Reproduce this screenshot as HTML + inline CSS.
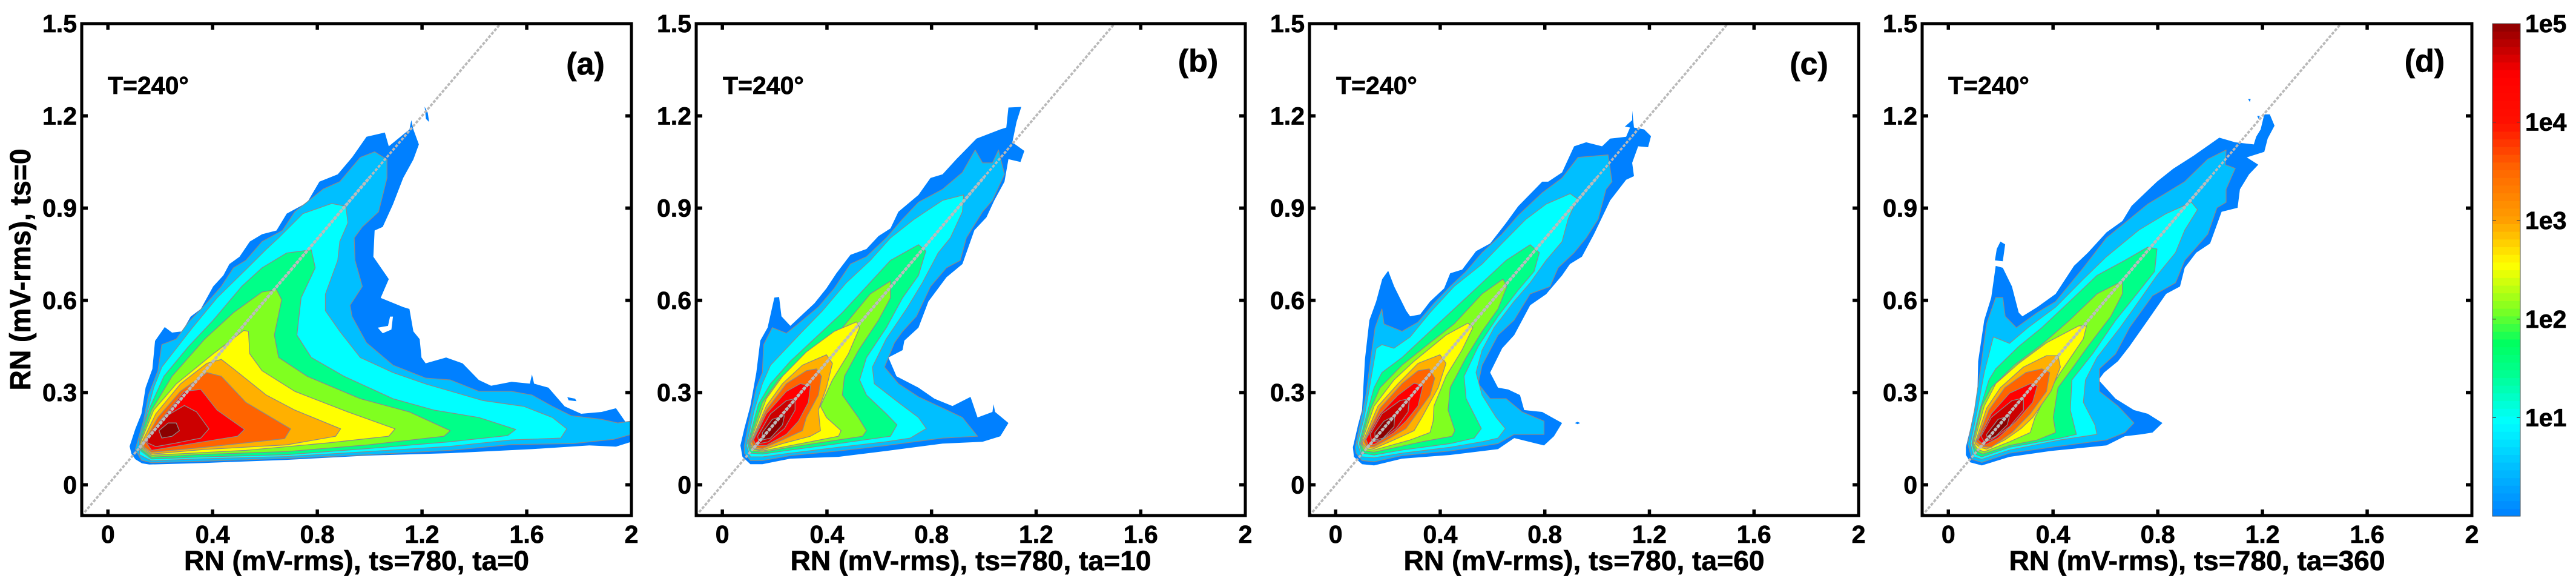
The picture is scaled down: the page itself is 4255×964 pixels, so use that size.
<!DOCTYPE html>
<html lang="en">
<head>
<meta charset="utf-8">
<title>RN contour comparison</title>
<style>
html,body{margin:0;padding:0;background:#fff;width:4255px;height:964px;overflow:hidden}
svg{display:block;font-family:"Liberation Sans",sans-serif;font-weight:bold}
svg text{stroke:#000;stroke-width:0.7px}
</style>
</head>
<body>
<svg id="figure" width="4255" height="964" viewBox="0 0 4255 964" xmlns="http://www.w3.org/2000/svg">
<rect width="4255" height="964" fill="#fff"/>
</svg>
<script>
// ---- chart data (flat x,y pairs in mV-rms; array index = contour level) ----
const xTicks = [0, 0.4, 0.8, 1.2, 1.6, 2];
const xTickLabels = ['0', '0.4', '0.8', '1.2', '1.6', '2'];
const yTicks = [0, 0.3, 0.6, 0.9, 1.2, 1.5];
const yTickLabels = ['0', '0.3', '0.6', '0.9', '1.2', '1.5'];
const panelLetters = ['(a)', '(b)', '(c)', '(d)'];
const xAxisTitles = ['RN (mV-rms), ts=780, ta=0', 'RN (mV-rms), ts=780, ta=10', 'RN (mV-rms), ts=780, ta=60', 'RN (mV-rms), ts=780, ta=360'];
const yAxisTitle = 'RN (mV-rms), ts=0';
const temperatureLabel = 'T=240\u00B0';
const levelColors = ['#0080ff', '#00bfff', '#00ffff', '#00ff88', '#80ff20', '#ffff00', '#ffb000', '#ff6400', '#ff0000', '#cc0000', '#8b0000'];
const colorbarExponents = [0, 0.5, 0.96, 1.45, 1.76, 2.1, 2.55, 3, 3.54, 3.99, 4.48, 5];
const colorbarColors = ['#0080ff', '#00bfff', '#00ffff', '#00ff90', '#00ff60', '#80ff20', '#ffff00', '#ffa000', '#ff6400', '#ff1000', '#ff0000', '#8b0000'];
const colorbarTicks = [1, 2, 3, 4, 5];
const colorbarTickLabels = ['1e1', '1e2', '1e3', '1e4', '1e5'];

const contoursA = [
[.083,.125,.105,.182,.128,.231,.144,.316,.170,.377,.180,.468,.217,.513,.245,.495,.284,.499,.316,.547,.355,.572,.402,.645,.441,.681,.464,.718,.503,.742,.542,.791,.589,.815,.644,.827,.683,.882,.761,.918,.808,.986,.878,1.010,.933,1.065,.988,1.132,1.058,1.146,1.073,1.101,1.152,1.156,1.159,1.186,1.167,1.156,1.188,1.107,1.167,1.058,1.128,.998,1.089,.912,1.050,.839,1.019,.827,1.014,.742,1.073,.669,1.042,.608,1.128,.578,1.152,.572,1.167,.499,1.191,.474,1.198,.414,1.214,.395,1.292,.414,1.355,.395,1.417,.341,1.464,.322,1.542,.335,1.612,.329,1.620,.359,1.628,.329,1.683,.316,1.745,.255,1.808,.231,1.886,.237,1.941,.249,1.980,.201,2.0,.207,2.0,.14,1.941,.124,1.839,.128,1.620,.116,1.308,.103,.995,.095,.683,.081,.370,.071,.158,.066,.130,.070,.105,.083,.090,.100],
[.117,.152,.136,.207,.155,.292,.191,.371,.206,.456,.261,.474,.308,.529,.370,.584,.433,.645,.480,.706,.527,.730,.589,.791,.667,.827,.714,.888,.823,.962,.886,.986,.964,1.065,1.019,1.083,1.066,1.058,1.066,.998,1.034,.888,.972,.839,.941,.803,.944,.730,.972,.645,.925,.584,.933,.547,.988,.462,1.089,.389,1.214,.347,1.308,.341,1.417,.304,1.542,.304,1.620,.292,1.698,.255,1.769,.225,1.886,.213,1.948,.201,2.0,.207,2.0,.164,1.933,.148,1.777,.134,1.542,.131,1.308,.112,.995,.098,.683,.086,.370,.077,.167,.072,.128,.080,.105,.115],
[.125,.152,.152,.243,.175,.316,.206,.383,.323,.511,.417,.608,.527,.700,.605,.766,.652,.803,.745,.882,.855,.915,.909,.906,.917,.852,.886,.791,.878,.730,.831,.620,.831,.566,.886,.499,.964,.414,1.089,.365,1.214,.328,1.433,.274,1.589,.255,1.698,.219,1.753,.182,1.730,.152,1.542,.146,1.308,.125,.995,.108,.683,.092,.370,.085,.167,.078,.120,.098],
[.120,.146,.159,.249,.214,.353,.308,.450,.402,.535,.511,.645,.589,.706,.683,.754,.777,.764,.792,.706,.738,.608,.722,.487,.777,.414,.902,.353,1.089,.280,1.245,.243,1.417,.219,1.558,.180,1.527,.160,1.308,.140,.995,.118,.683,.098,.370,.091,.167,.084,.126,.110],
[.120,.134,.167,.243,.245,.353,.370,.474,.480,.560,.589,.627,.644,.635,.664,.602,.636,.487,.652,.414,.761,.353,.964,.280,1.152,.237,1.308,.176,1.284,.158,.995,.130,.683,.108,.370,.099,.167,.090,.128,.116],
[.123,.134,.175,.243,.261,.328,.402,.426,.519,.502,.537,.499,.542,.426,.589,.371,.714,.304,.917,.237,1.097,.182,1.073,.158,.839,.136,.527,.112,.167,.096,.133,.118],
[.128,.134,.183,.231,.277,.328,.378,.395,.433,.408,.480,.377,.605,.292,.714,.243,.889,.182,.870,.158,.683,.130,.370,.115,.167,.100,.136,.120],
[.136,.134,.191,.219,.277,.304,.378,.365,.433,.353,.527,.268,.698,.182,.675,.150,.370,.122,.167,.106,.139,.122],
[.144,.140,.198,.207,.292,.304,.355,.310,.417,.243,.522,.180,.495,.158,.323,.134,.167,.112],
[.152,.158,.214,.219,.292,.258,.339,.237,.386,.182,.355,.152,.261,.136,.183,.124,.152,.136],
[.195,.176,.230,.201,.261,.201,.273,.176,.245,.158,.206,.152]
];
const contoursB = [
[.069,.128,.084,.183,.107,.256,.130,.365,.145,.469,.173,.511,.199,.609,.217,.611,.226,.548,.260,.517,.291,.542,.352,.590,.398,.639,.436,.688,.490,.748,.551,.767,.597,.809,.643,.834,.673,.888,.750,.943,.796,.998,.842,1.010,.895,1.059,.972,1.126,1.063,1.156,1.086,1.162,1.094,1.227,1.143,1.229,1.125,1.180,1.109,1.114,1.155,1.086,1.140,1.050,1.094,1.059,1.079,.986,1.040,.925,1.010,.870,.964,.828,.918,.718,.857,.675,.788,.596,.750,.511,.696,.469,.689,.438,.635,.414,.666,.353,.750,.316,.811,.280,.880,.256,.949,.286,.976,.219,1.033,.237,1.037,.262,1.043,.237,1.094,.201,1.063,.158,.995,.140,.842,.134,.627,.110,.444,.091,.260,.085,.153,.067,.107,.067,.077,.091],
[.084,.128,.099,.195,.130,.316,.153,.365,.158,.456,.191,.511,.245,.493,.298,.529,.367,.578,.428,.639,.490,.718,.551,.742,.627,.803,.689,.864,.750,.919,.842,.961,.918,1.016,.967,1.089,.995,1.047,1.033,1.047,1.056,1.089,1.079,1.010,1.033,.925,.995,.888,.933,.803,.910,.730,.857,.706,.796,.645,.742,.548,.689,.499,.658,.462,.620,.383,.673,.329,.750,.286,.826,.256,.918,.219,.976,.158,.842,.152,.627,.128,.444,.110,.260,.095,.153,.079,.107,.079,.084,.103],
[.092,.128,.122,.243,.153,.329,.184,.389,.306,.499,.383,.566,.474,.657,.566,.730,.643,.803,.734,.864,.842,.925,.923,.943,.918,.888,.872,.803,.826,.755,.765,.657,.704,.572,.627,.475,.574,.383,.581,.329,.673,.268,.750,.219,.780,.183,.719,.152,.627,.140,.444,.122,.260,.103,.153,.091,.107,.091],
[.097,.134,.138,.262,.184,.329,.260,.402,.367,.487,.459,.560,.551,.645,.643,.730,.750,.781,.778,.760,.750,.681,.689,.608,.627,.511,.551,.414,.525,.341,.551,.292,.627,.231,.668,.195,.643,.158,.444,.134,.260,.113,.153,.100,.107,.103],
[.101,.134,.153,.268,.214,.341,.291,.402,.383,.462,.459,.511,.566,.621,.643,.663,.643,.608,.597,.535,.521,.438,.467,.353,.459,.292,.520,.219,.551,.176,.536,.158,.444,.146,.260,.122,.153,.106,.112,.110],
[.104,.134,.168,.280,.230,.353,.321,.432,.428,.499,.513,.530,.525,.511,.482,.426,.421,.341,.375,.256,.398,.219,.454,.176,.444,.158,.337,.140,.153,.110,.115,.116],
[.107,.134,.168,.256,.230,.329,.306,.389,.398,.423,.421,.395,.398,.316,.367,.243,.375,.176,.337,.158,.230,.134,.153,.113,.119,.118],
[.112,.140,.168,.243,.245,.329,.321,.371,.360,.377,.379,.353,.367,.292,.321,.219,.306,.176,.230,.146,.153,.118,.122,.122],
[.119,.146,.168,.231,.245,.304,.298,.329,.337,.322,.329,.268,.291,.207,.245,.164,.168,.128,.130,.128],
[.135,.158,.184,.231,.245,.274,.278,.280,.278,.243,.237,.183,.176,.140,.141,.134],
[.153,.170,.191,.213,.237,.225,.230,.195,.184,.152,.153,.146]
];
const contoursC = [
[.066,.122,.086,.195,.101,.243,.112,.408,.129,.535,.155,.596,.178,.669,.201,.696,.224,.645,.270,.566,.285,.548,.323,.554,.361,.596,.415,.639,.438,.688,.484,.700,.537,.760,.591,.785,.652,.852,.698,.906,.790,.986,.813,.986,.866,1.016,.912,1.101,.958,1.114,1.019,1.101,1.050,1.126,1.111,1.132,1.126,1.162,1.106,1.165,1.134,1.186,1.134,1.217,1.141,1.162,1.180,1.156,1.206,1.134,1.195,1.098,1.157,1.101,1.134,1.047,1.141,1.004,1.111,.992,1.050,.925,.988,.815,.942,.742,.896,.718,.866,.681,.805,.620,.744,.584,.683,.487,.637,.444,.591,.365,.621,.316,.660,.310,.705,.292,.721,.243,.790,.237,.866,.201,.835,.158,.797,.128,.683,.152,.621,.116,.438,.097,.254,.085,.147,.063,.101,.067,.070,.091],
[.075,.122,.093,.195,.116,.292,.135,.414,.151,.511,.177,.572,.185,.523,.254,.499,.315,.529,.376,.590,.438,.645,.499,.694,.560,.755,.636,.815,.698,.876,.789,.949,.866,.998,.927,1.065,1.042,1.073,1.057,.986,1.034,.961,1.004,.864,.958,.803,.912,.755,.851,.706,.820,.645,.744,.621,.682,.535,.621,.487,.560,.389,.545,.329,.591,.280,.652,.280,.713,.237,.797,.207,.797,.164,.682,.164,.621,.134,.438,.110,.254,.095,.147,.075,.101,.079,.078,.103],
[.083,.134,.109,.219,.132,.329,.155,.444,.177,.456,.223,.444,.285,.481,.361,.560,.453,.645,.560,.718,.636,.785,.728,.864,.805,.913,.897,.947,.924,.931,.889,.864,.866,.791,.805,.730,.744,.657,.682,.596,.606,.511,.560,.438,.537,.365,.560,.292,.614,.219,.649,.183,.621,.152,.560,.140,.438,.122,.254,.103,.147,.088,.101,.091],
[.090,.134,.124,.243,.147,.316,.177,.365,.254,.414,.361,.499,.453,.572,.560,.657,.652,.730,.744,.781,.779,.755,.759,.694,.698,.633,.621,.548,.545,.450,.491,.353,.499,.280,.557,.183,.530,.152,.438,.134,.254,.113,.147,.097,.101,.103],
[.095,.134,.132,.243,.170,.316,.254,.389,.361,.462,.453,.523,.560,.621,.640,.669,.655,.645,.621,.572,.560,.499,.499,.414,.438,.316,.430,.243,.456,.176,.445,.158,.330,.140,.147,.106,.109,.110],
[.098,.134,.147,.256,.223,.341,.300,.402,.422,.487,.506,.526,.525,.511,.483,.438,.422,.353,.376,.256,.373,.207,.361,.170,.285,.146,.147,.113,.113,.118],
[.101,.134,.162,.256,.239,.329,.315,.395,.399,.423,.422,.395,.392,.316,.330,.219,.300,.176,.223,.146,.147,.118,.116,.122],
[.109,.140,.170,.249,.254,.329,.315,.371,.358,.377,.379,.347,.361,.292,.300,.219,.269,.183,.208,.152,.147,.124,.119,.125],
[.116,.148,.170,.231,.239,.292,.300,.331,.334,.322,.315,.256,.269,.207,.223,.170,.147,.131,.124,.131],
[.132,.164,.177,.231,.246,.274,.282,.280,.277,.237,.231,.183,.170,.144,.139,.140],
[.150,.170,.185,.207,.226,.225,.223,.189,.181,.152,.151,.146]
];
const contoursD = [
[.067,.122,.084,.183,.111,.292,.114,.402,.137,.535,.164,.609,.181,.712,.208,.706,.243,.645,.269,.560,.283,.548,.340,.578,.410,.621,.480,.712,.533,.755,.604,.821,.665,.858,.700,.907,.797,.986,.859,1.028,.938,1.071,1.035,1.129,1.096,1.114,1.167,1.107,1.176,1.132,1.193,1.156,1.207,1.205,1.228,1.205,1.246,1.168,1.220,1.126,1.207,1.083,1.140,1.065,1.184,1.041,1.149,1.010,1.114,.961,1.105,.901,1.044,.888,1.000,.785,.947,.755,.903,.706,.885,.645,.832,.621,.762,.535,.692,.450,.648,.402,.595,.365,.574,.341,.639,.280,.709,.243,.762,.231,.818,.201,.780,.170,.736,.164,.674,.158,.604,.128,.392,.110,.234,.091,.128,.063,.084,.073,.067,.097],
[.074,.134,.100,.243,.127,.402,.146,.523,.181,.609,.208,.609,.217,.548,.260,.511,.340,.560,.410,.596,.516,.706,.604,.803,.692,.864,.762,.913,.832,.949,.903,.986,.991,1.059,1.061,1.089,1.058,1.041,1.096,1.029,1.061,.961,1.061,.919,1.026,.901,.991,.815,.903,.730,.868,.657,.780,.615,.692,.511,.639,.426,.577,.377,.577,.304,.648,.256,.709,.201,.674,.170,.604,.146,.392,.122,.234,.103,.128,.073,.090,.083],
[.084,.134,.111,.243,.137,.365,.172,.481,.234,.460,.304,.511,.410,.578,.516,.669,.604,.742,.727,.828,.832,.882,.929,.919,.952,.895,.903,.828,.868,.755,.797,.681,.727,.596,.656,.511,.568,.414,.524,.341,.516,.268,.560,.195,.568,.164,.428,.146,.234,.113,.128,.083,.097,.091],
[.090,.134,.120,.243,.155,.341,.181,.377,.269,.450,.357,.511,.463,.596,.568,.681,.674,.730,.762,.773,.797,.767,.788,.694,.709,.609,.639,.535,.551,.426,.472,.341,.466,.243,.489,.164,.428,.152,.234,.122,.128,.091,.102,.100],
[.093,.134,.128,.256,.164,.316,.252,.389,.357,.456,.463,.535,.568,.621,.665,.663,.665,.621,.621,.548,.533,.450,.472,.377,.419,.316,.401,.219,.410,.170,.340,.146,.234,.128,.132,.100,.107,.110],
[.097,.134,.137,.256,.181,.329,.269,.395,.375,.462,.498,.517,.528,.517,.516,.475,.428,.365,.375,.292,.331,.219,.313,.170,.234,.140,.137,.107,.111,.116],
[.102,.134,.146,.249,.199,.316,.287,.383,.375,.420,.419,.420,.428,.383,.392,.304,.322,.219,.278,.183,.216,.146,.146,.116,.120,.122],
[.107,.140,.155,.243,.216,.316,.296,.365,.357,.377,.387,.365,.375,.304,.313,.231,.243,.170,.164,.122,.128,.125],
[.114,.146,.164,.231,.234,.298,.313,.329,.340,.322,.322,.268,.260,.207,.190,.152,.137,.128],
[.125,.158,.164,.219,.243,.274,.287,.282,.287,.243,.234,.189,.164,.146,.137,.140],
[.146,.164,.190,.213,.234,.225,.225,.195,.181,.158,.150,.146]
];
// isolated lowest-level blobs outside the main contour
const islandsA = [[1.210,1.23,1.222,1.21,1.227,1.18,1.215,1.19],[1.755,.285,1.785,.280,1.79,.272,1.76,.275]];
const islandsB = [];
const islandsC = [[.915,.201,.925,.205,.935,.201,.925,.197]];
const islandsD = [[.178,.730,.185,.767,.199,.791,.217,.782,.208,.727],[1.145,1.255,1.155,1.255,1.152,1.245],[1.18,1.2,1.19,1.2,1.185,1.19]];
const holesA = [[1.031,.511,1.070,.517,1.078,.547,1.089,.547,1.083,.505,1.050,.493]];
const diagonalStart = -0.1, diagonalInnerStart = 0.12, diagonalInnerEnd = 1.0, diagonalEnd = 1.5;

// ---- layout ----
const panelLeft = [135, 1150, 2163, 3175];
const panelRight = [1043, 2057, 3070, 4083];
const plotTop = 39, plotBottom = 851;
const xMin = -0.1, xMax = 2, yMin = -0.1, yMax = 1.5;
const letterX = [967, 1979, 2988, 4005];
const letterY = [123, 118, 123, 118];
const tempX = [178, 1194, 2207, 3218];
const titleEm = [12.393, 12.949, 12.949, 13.505];
const NS = 'http://www.w3.org/2000/svg';
const fig = document.getElementById('figure');

function mk(tag, attrs, parent) {
  const el = document.createElementNS(NS, tag);
  for (const k in attrs) el.setAttribute(k, attrs[k]);
  (parent || fig).appendChild(el);
  return el;
}
function xScale(p, v) { return panelLeft[p] + (v - xMin) / (xMax - xMin) * (panelRight[p] - panelLeft[p]); }
function yScale(v) { return plotBottom - (v - yMin) / (yMax - yMin) * (plotBottom - plotTop); }
function toPoints(p, flat) {
  const out = [];
  for (let i = 0; i + 1 < flat.length; i += 2) out.push(xScale(p, flat[i]).toFixed(1) + ',' + yScale(flat[i + 1]).toFixed(1));
  return out.join(' ');
}
function label(txt, x, y, size, anchor, parent) {
  const t = mk('text', {x: x, y: y, 'font-size': size, 'text-anchor': anchor, fill: '#000'}, parent);
  t.textContent = txt;
  return t;
}

const allContours = [contoursA, contoursB, contoursC, contoursD];
const allIslands = [islandsA, islandsB, islandsC, islandsD];
const allHoles = [holesA, [], [], []];
const defs = mk('defs', {});

allContours.forEach(function (contours, p) {
  const L = panelLeft[p], R = panelRight[p];
  const g = mk('g', {});
  
  
  const clip = mk('clipPath', {id: 'clip' + p}, defs);
  mk('rect', {x: L, y: plotTop, width: R - L, height: plotBottom - plotTop}, clip);
  const marks = mk('g', {'clip-path': 'url(#clip' + p + ')'}, g);

  contours.forEach(function (flat, lvl) {
    const poly = mk('polygon', {
      points: toPoints(p, flat),
      fill: levelColors[lvl],
      stroke: lvl === 0 ? 'none' : '#8a8a8a',
      'stroke-width': lvl === 0 ? 0 : 1.3,
      'stroke-linejoin': 'round'
    }, marks);
    
    
  });
  allIslands[p].forEach(function (flat) {
    const poly = mk('polygon', {points: toPoints(p, flat), fill: levelColors[0]}, marks);
    
    
  });
  allHoles[p].forEach(function (flat) {
    const poly = mk('polygon', {points: toPoints(p, flat), fill: '#fff'}, marks);
    
    
  });

  const diag = mk('line', {
    x1: xScale(p, diagonalStart), y1: yScale(diagonalStart), x2: xScale(p, diagonalEnd), y2: yScale(diagonalEnd),
    stroke: '#b9b9b9', 'stroke-width': 3.8, 'stroke-dasharray': '5 2.4'
  }, marks);
  
  
  const diagInner = mk('line', {
    x1: xScale(p, diagonalInnerStart), y1: yScale(diagonalInnerStart), x2: xScale(p, diagonalInnerEnd), y2: yScale(diagonalInnerEnd),
    stroke: '#bcbcbc', 'stroke-width': 5, 'stroke-dasharray': '4.6 2.8'
  }, marks);
  
  

  const frame = mk('rect', {x: L, y: plotTop, width: R - L, height: plotBottom - plotTop, fill: 'none', stroke: '#000', 'stroke-width': 5}, g);
  
  

  xTicks.forEach(function (v, i) {
    const x = xScale(p, v);
    if (v < xMax) {
      const t1 = mk('line', {x1: x, x2: x, y1: plotBottom, y2: plotBottom - 10, stroke: '#000', 'stroke-width': 5.5}, g);
      
      
      const t2 = mk('line', {x1: x, x2: x, y1: plotTop, y2: plotTop + 10, stroke: '#000', 'stroke-width': 5.5}, g);
      
      
    }
    const lab = label(xTickLabels[i], x, 896, 41, 'middle', g);
    
    
  });
  yTicks.forEach(function (v, i) {
    const y = yScale(v);
    if (v < yMax) {
      const t1 = mk('line', {x1: L, x2: L + 10, y1: y, y2: y, stroke: '#000', 'stroke-width': 5.5}, g);
      
      
      const t2 = mk('line', {x1: R, x2: R - 10, y1: y, y2: y, stroke: '#000', 'stroke-width': 5.5}, g);
      
      
    }
    const lab = label(yTickLabels[i], L - 8, y + 14, 41, 'end', g);
    
    
  });

  const xt = label(xAxisTitles[p], (L + R) / 2, 941, 45, 'middle', g);
  xt.setAttribute('textLength', (titleEm[p] * 46).toFixed(0));
  xt.setAttribute('lengthAdjust', 'spacingAndGlyphs');
  
  

  const letter = label(panelLetters[p], letterX[p], letterY[p], 52, 'middle', g);
  
  

  const temp = label(temperatureLabel, tempX[p], 155, 41, 'start', g);
  
  
});

// y-axis title on first panel only
const yt = label(yAxisTitle, 0, 0, 48, 'middle');
yt.setAttribute('transform', 'translate(50,445) rotate(-90)');
yt.setAttribute('textLength', '399');
yt.setAttribute('lengthAdjust', 'spacingAndGlyphs');



// colorbar
const cbLeft = 4117, cbRight = 4163, cbTop = 39, cbBottom = 852;
const cbBands = 64;
function hexToRgb(h) { return [parseInt(h.substr(1, 2), 16), parseInt(h.substr(3, 2), 16), parseInt(h.substr(5, 2), 16)]; }
function colorAt(e) {
  for (let i = 0; i < colorbarExponents.length - 1; i++) {
    if (e <= colorbarExponents[i + 1]) {
      const t = (e - colorbarExponents[i]) / (colorbarExponents[i + 1] - colorbarExponents[i]);
      const a = hexToRgb(colorbarColors[i]), b = hexToRgb(colorbarColors[i + 1]);
      return 'rgb(' + a.map(function (c, k) { return Math.round(c + (b[k] - c) * t); }).join(',') + ')';
    }
  }
  return colorbarColors[colorbarColors.length - 1];
}
function cbY(e) { return cbBottom - e / 5 * (cbBottom - cbTop); }
const cb = mk('g', {});


for (let i = 0; i < cbBands; i++) {
  const e0 = i / cbBands * 5, e1 = (i + 1) / cbBands * 5;
  const band = mk('rect', {x: cbLeft, y: cbY(e1), width: cbRight - cbLeft, height: cbY(e0) - cbY(e1) + 0.6, fill: colorAt((e0 + e1) / 2)}, cb);
  
  
}
const cbFrame = mk('rect', {x: cbLeft, y: cbTop, width: cbRight - cbLeft, height: cbBottom - cbTop, fill: 'none', stroke: '#555', 'stroke-width': 1}, cb);


colorbarTicks.forEach(function (e, i) {
  const y = cbY(e);
  if (e < 5) {
    const l = mk('line', {x1: cbLeft, x2: cbLeft + 6, y1: y, y2: y, stroke: '#444', 'stroke-width': 1.2}, cb);
    
    
    const r = mk('line', {x1: cbRight - 6, x2: cbRight, y1: y, y2: y, stroke: '#444', 'stroke-width': 1.2}, cb);
    
    
  }
  const t = label(colorbarTickLabels[i], 4171, y + 14, 41, 'start', cb);
  
  
});
</script>
</body>
</html>
